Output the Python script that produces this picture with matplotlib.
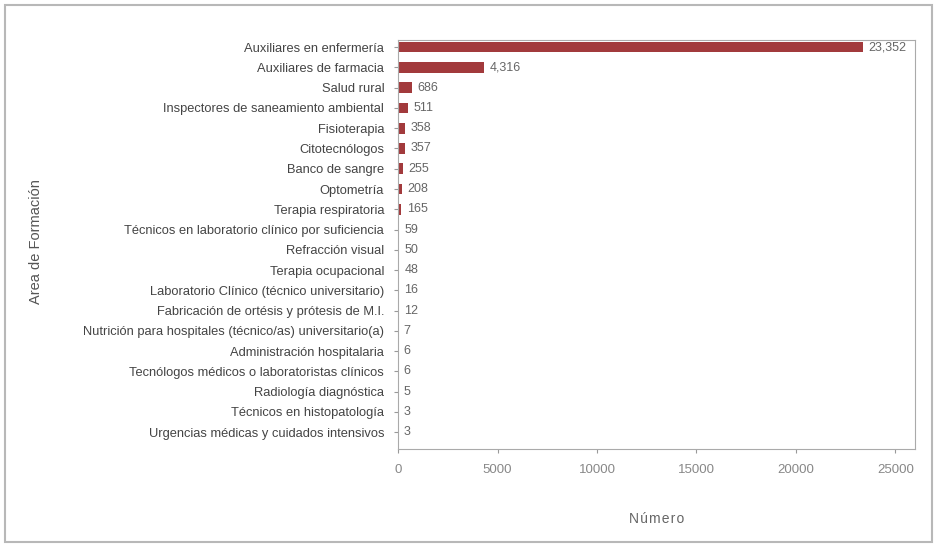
import matplotlib.pyplot as plt
from matplotlib.patches import Rectangle

plt.rcParams['font.family'] = ['Liberation Sans', 'DejaVu Sans']

# Áreas de formación y número de personas formadas
areas = [
    "Auxiliares en enfermería",
    "Auxiliares de farmacia",
    "Salud rural",
    "Inspectores de saneamiento ambiental",
    "Fisioterapia",
    "Citotecnólogos",
    "Banco de sangre",
    "Optometría",
    "Terapia respiratoria",
    "Técnicos en laboratorio clínico por suficiencia",
    "Refracción visual",
    "Terapia ocupacional",
    "Laboratorio Clínico (técnico universitario)",
    "Fabricación de ortésis y prótesis de M.I.",
    "Nutrición para hospitales (técnico/as) universitario(a)",
    "Administración hospitalaria",
    "Tecnólogos médicos o laboratoristas clínicos",
    "Radiología diagnóstica",
    "Técnicos en histopatología",
    "Urgencias médicas y cuidados intensivos",
]
numero = [23352, 4316, 686, 511, 358, 357, 255, 208, 165, 59, 50, 48,
          16, 12, 7, 6, 6, 5, 3, 3]
xticks = [0, 5000, 10000, 15000, 20000, 25000]

fig = plt.figure(figsize=(9.37, 5.45), dpi=100)
fig.patches.append(Rectangle((0.005, 0.006), 0.99, 0.985, transform=fig.transFigure,
                             fill=False, edgecolor='#b8b8b8', linewidth=1.5))
ax = fig.add_axes([0.4248, 0.176, 0.552, 0.75])

pos = list(range(len(areas)))
ax.barh(pos, numero, height=0.52, color='#a23a3c', edgecolor='none')

for i, v in enumerate(numero):
    ax.annotate(f"{v:,}", (v, i), xytext=(4, 0), textcoords='offset points',
                va='center', ha='left', fontsize=9, color='#666666')

ax.set_ylim(len(areas) - 0.16, -0.34)
ax.set_xlim(0, 26000)
ax.set_yticks(pos)
ax.set_yticklabels(areas, fontsize=9.3, color='#444444')
ax.set_xticks(xticks)
ax.set_xticklabels([str(x) for x in xticks], fontsize=9.5, color='#888888')
ax.tick_params(axis='y', length=3, pad=7, color='#999999')
ax.tick_params(axis='x', length=3, pad=8, color='#999999')
for s in ax.spines.values():
    s.set_color('#aaaaaa')
    s.set_linewidth(0.8)

ax.set_xlabel("N ú m e r o".replace(" ", "\u200a"), fontsize=10, color='#666666',
              labelpad=26)
fig.text(0.038, 0.556, "Area de Formación", rotation=90, fontsize=10.5,
         color='#555555', ha='center', va='center')

fig.savefig("out.png", dpi=100)
